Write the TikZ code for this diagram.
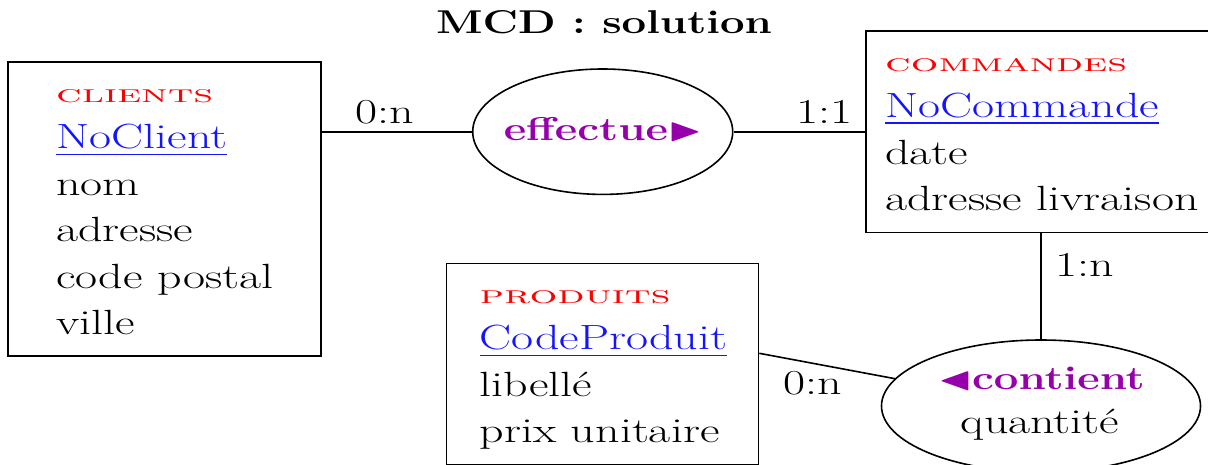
\documentclass[tikz,border=0pt]{standalone}
\usepackage{amssymb}
\usepackage{graphicx}
\usetikzlibrary{shapes.geometric}
\definecolor{entred}{RGB}{255,0,0}
\definecolor{keyblue}{RGB}{20,20,255}
\definecolor{assoc}{RGB}{150,0,170}
\newcommand\sx[1]{\scalebox{1.371}[1]{#1}}
\newcommand\bx[1]{{\fontsize{33}{46.5}\selectfont\scalebox{1.324}[1]{#1}}}
\newcommand\entname[2]{\textcolor{entred}{\resizebox{#1}{13pt}{\textsc{#2}}}}
\newcommand\keyattr[1]{\textcolor{keyblue}{\underline{#1}}}
\begin{document}
\begin{tikzpicture}[x=1pt,y=-1pt,
  every node/.style={font=\fontsize{35}{46.5}\selectfont, inner sep=0pt},
  entbox/.style={draw, line width=1.6pt, rectangle},
  assocell/.style={draw, line width=1.6pt, ellipse},
  conn/.style={line width=1.6pt},
  card/.style={anchor=base west},
  attrs/.style={anchor=base west}]
\useasboundingbox (0,0) rectangle (1208,464);
% title
\node[anchor=base] (title) at (604,33.3) {\bx{\textbf{MCD : solution}}};
% entity boxes
\node[entbox, minimum width=313pt, minimum height=294pt] (cli) at (164.5,209) {};
\node[entbox, minimum width=350pt, minimum height=201.4pt] (cmd) at (1041,131.7) {};
\node[entbox, minimum width=312pt, minimum height=201.4pt] (prod) at (602.5,364) {};
% associations
\node[assocell, minimum width=260pt, minimum height=125.4pt] (eff) at (602.7,131.7) {};
\node[assocell, minimum width=319pt, minimum height=132pt] (cont) at (1041,406) {};
% entity contents
\node[attrs] (clitxt) at (56,102.3) {\begin{tabular}[t]{@{}l@{}}
  \entname{157pt}{clients}\\
  \sx{\keyattr{NoClient}}\\
  \sx{nom}\\
  \sx{adresse}\\
  \sx{code postal}\\
  \sx{ville}
\end{tabular}};
\node[attrs] (cmdtxt) at (885,71) {\begin{tabular}[t]{@{}l@{}}
  \entname{242pt}{commandes}\\
  \sx{\keyattr{NoCommande}}\\
  \sx{date}\\
  \sx{adresse livraison}
\end{tabular}};
\node[attrs] (prodtxt) at (479.5,303.3) {\begin{tabular}[t]{@{}l@{}}
  \entname{191pt}{produits}\\
  \sx{\keyattr{CodeProduit}}\\
  \sx{libellé}\\
  \sx{prix unitaire}
\end{tabular}};
% association contents
\node[anchor=base, text=assoc] (efftxt) at (602.9,140) {\bx{\textbf{effectue}$\blacktriangleright$}};
\node[anchor=base, text=assoc] (conttxt) at (1041.5,389.3) {\bx{$\blacktriangleleft$\textbf{contient}}};
\node[anchor=base] (qtetxt) at (1040,433.3) {\sx{quantité}};
% connectors
\draw[conn] (eff -| cli.east) -- (eff);
\draw[conn] (eff) -- (cmd);
\draw[conn] (cmd) -- (cont);
\draw[conn] ([yshift=10.7pt]prod.east) -- (cont);
% cardinalities
\node[card] (c1) at (355,123.3) {\sx{0:n}};
\node[card] (c2) at (795.8,123.3) {\sx{1:1}};
\node[card] (c3) at (1055,276.7) {\sx{1:n}};
\node[card] (c4) at (783,394) {\sx{0:n}};
\end{tikzpicture}
\end{document}
